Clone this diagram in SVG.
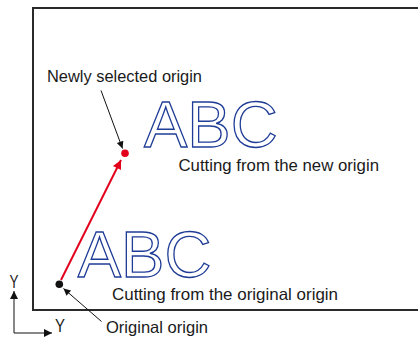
<svg xmlns="http://www.w3.org/2000/svg" width="418" height="337" viewBox="0 0 418 337">
<style>
.lbl{font-family:"Liberation Sans",Arial,sans-serif;font-size:16.5px;fill:#1a1a1a}
.ax{font-family:"Liberation Sans",Arial,sans-serif;font-size:17.5px;fill:#1a1a1a}
.abc{font-family:"Liberation Sans",Arial,sans-serif;font-size:65px;fill:#fff;stroke:#1f3c96;stroke-width:1.3}
.lead{stroke:#111;stroke-width:1;fill:none}
</style>
<defs>
<marker id="ah" viewBox="0 0 10 10" refX="10" refY="5" markerWidth="10" markerHeight="7" markerUnits="userSpaceOnUse" orient="auto"><path d="M0,0 L10,5 L0,10 z" fill="#111"/></marker>
<marker id="ax" viewBox="0 0 10 10" refX="10" refY="5" markerWidth="10" markerHeight="8" markerUnits="userSpaceOnUse" orient="auto"><path d="M0,0 L10,5 L0,10 z" fill="#111"/></marker>
<marker id="ar" viewBox="0 0 10 10" refX="10" refY="5" markerWidth="13" markerHeight="9" markerUnits="userSpaceOnUse" orient="auto"><path d="M0,0 L10,5 L0,10 z" fill="#e3001b"/></marker>
</defs>
<g id="frame"><rect x="33" y="8" width="420" height="302" fill="none" stroke="#2a2a2a" stroke-width="2"/></g>
<g id="abc-new"><text class="abc" x="144" y="146.7">ABC</text></g>
<g id="abc-orig"><text class="abc" x="77.7" y="277.3">ABC</text></g>
<g id="connectors">
<line x1="61" y1="280" x2="121" y2="160" stroke="#e3001b" stroke-width="2" marker-end="url(#ar)"/>
<line class="lead" x1="101" y1="90.5" x2="122.5" y2="148.5" marker-end="url(#ah)"/>
<line class="lead" x1="101.5" y1="321.5" x2="63.5" y2="288.5" marker-end="url(#ah)"/>
<line class="lead" x1="14" y1="333" x2="14" y2="291" marker-end="url(#ax)"/>
<line class="lead" x1="14" y1="333" x2="52" y2="333" marker-end="url(#ax)"/>
</g>
<g id="new-origin"><circle cx="125" cy="153.3" r="3.8" fill="#e3001b"/></g>
<g id="orig-origin"><circle cx="59.3" cy="284.3" r="3.8" fill="#111"/></g>
<g id="labels">
<text class="lbl" x="47" y="81.7" textLength="155" lengthAdjust="spacingAndGlyphs">Newly selected origin</text>
<text class="lbl" x="178.5" y="170.5" textLength="200.5" lengthAdjust="spacingAndGlyphs">Cutting from the new origin</text>
<text class="lbl" x="112" y="300" textLength="226" lengthAdjust="spacingAndGlyphs">Cutting from the original origin</text>
<text class="lbl" x="106" y="333.4" textLength="102" lengthAdjust="spacingAndGlyphs">Original origin</text>
<text class="ax" x="9.5" y="288" textLength="9" lengthAdjust="spacingAndGlyphs">Y</text>
<text class="ax" x="55" y="332" textLength="10" lengthAdjust="spacingAndGlyphs">Y</text>
</g>
</svg>
